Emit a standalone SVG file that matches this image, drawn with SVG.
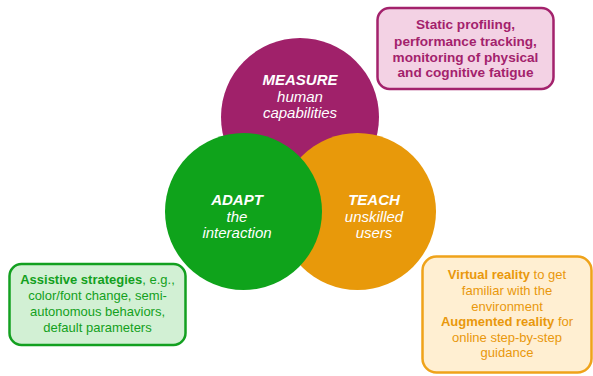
<svg xmlns="http://www.w3.org/2000/svg" width="593" height="376" viewBox="0 0 593 376">
<style>
text{font-family:"Liberation Sans",Arial,sans-serif;text-anchor:middle}
.ct{fill:#fff;font-size:15px;font-style:italic}
.ct .b{font-weight:bold}
.bx{font-size:13px}
.m{fill:#A3226C}
.g{fill:#13A020}
.o{fill:#E9980C}
</style>
<rect width="593" height="376" fill="#fff"/>
<g id="measure">
<circle cx="300" cy="117" r="79" fill="#A0216A"/>
<text class="ct" x="300" y="85"><tspan class="b">MEASURE</tspan><tspan x="300" y="102">human</tspan><tspan x="300" y="118">capabilities</tspan></text>
</g>
<g id="teach">
<circle cx="357.5" cy="211.5" r="78.5" fill="#E8990A"/>
<text class="ct" x="374" y="205"><tspan class="b">TEACH</tspan><tspan x="374" y="222">unskilled</tspan><tspan x="374" y="238">users</tspan></text>
</g>
<g id="adapt">
<circle cx="243.5" cy="211.5" r="78.5" fill="#0FA31B"/>
<text class="ct" x="237" y="205"><tspan class="b">ADAPT</tspan><tspan x="237" y="222">the</tspan><tspan x="237" y="238">interaction</tspan></text>
</g>
<g id="measure-box">
<rect x="377.5" y="8" width="176" height="81" rx="12" fill="#F3D2E4" stroke="#A3226C" stroke-width="2.5"/>
<text class="m" font-size="13.6" font-weight="bold"><tspan x="465.5" y="29">Static profiling,</tspan><tspan x="465.5" y="46">performance tracking,</tspan><tspan x="465.5" y="62">monitoring of physical</tspan><tspan x="465.5" y="77">and cognitive fatigue</tspan></text>
</g>
<g id="adapt-box">
<rect x="9.5" y="264" width="176" height="81" rx="12" fill="#D2F0D4" stroke="#13A020" stroke-width="2.5"/>
<text class="bx g"><tspan x="97.5" y="284"><tspan font-weight="bold">Assistive strategies</tspan>, e.g.,</tspan><tspan x="97.5" y="300">color/font change, semi-</tspan><tspan x="97.5" y="316">autonomous behaviors,</tspan><tspan x="97.5" y="332">default parameters</tspan></text>
</g>
<g id="teach-box">
<rect x="422.5" y="256.5" width="169" height="116" rx="14" fill="#FFEFD2" stroke="#EFA31A" stroke-width="2.5"/>
<text class="bx o"><tspan x="507" y="279"><tspan font-weight="bold">Virtual reality</tspan> to get</tspan><tspan x="507" y="295">familiar with the</tspan><tspan x="507" y="311">environment</tspan><tspan x="507" y="326"><tspan font-weight="bold">Augmented reality</tspan> for</tspan><tspan x="507" y="342">online step-by-step</tspan><tspan x="507" y="357">guidance</tspan></text>
</g>
<g id="connectors"/>
</svg>
